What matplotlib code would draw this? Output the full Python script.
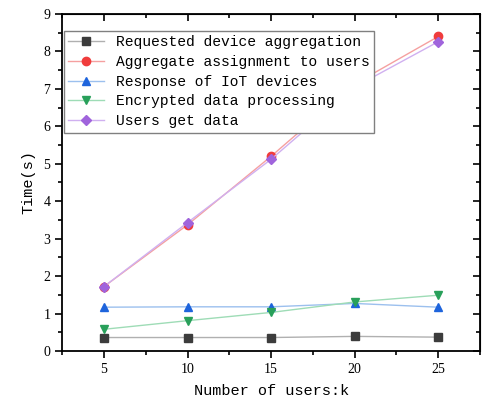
import matplotlib.pyplot as plt
from matplotlib.ticker import MultipleLocator

# data
users = [5, 10, 15, 20, 25]
requested = [0.36, 0.36, 0.36, 0.39, 0.37]
aggregate = [1.72, 3.37, 5.20, 7.13, 8.40]
iot_response = [1.17, 1.18, 1.18, 1.27, 1.17]
encrypted = [0.58, 0.81, 1.03, 1.31, 1.49]
users_get = [1.72, 3.43, 5.12, 7.05, 8.26]

labels = ["Requested device aggregation", "Aggregate assignment to users",
          "Response of IoT devices", "Encrypted data processing", "Users get data"]

plt.rcParams['font.family'] = ['Liberation Mono', 'DejaVu Sans']

fig = plt.figure(figsize=(4.82, 4.0), dpi=100)
ax = fig.add_axes([0.129, 0.1225, 0.867, 0.8425])

series = [
    (requested, 's', '#3c3c3c', '#b0b0b0'),
    (aggregate, 'o', '#f03c3c', '#f5a0a0'),
    (iot_response, '^', '#1e64dc', '#9cc0ee'),
    (encrypted, 'v', '#28a05a', '#9edcb6'),
    (users_get, 'D', '#a064dc', '#d0b0f0'),
]
for (vals, mk, mc, lc), lab in zip(series, labels):
    ax.plot(users, vals, color=lc, lw=1.0, marker=mk, markersize=6 if mk != 'D' else 5,
            markerfacecolor=mc, markeredgecolor=mc, label=lab)

ax.set_xlim(2.5, 27.5)
ax.set_ylim(0, 9)
ax.set_xticks(users)
ax.xaxis.set_minor_locator(MultipleLocator(2.5))
ax.yaxis.set_major_locator(MultipleLocator(1))
ax.yaxis.set_minor_locator(MultipleLocator(0.5))
ax.tick_params(which='both', direction='out', width=1.2)
ax.tick_params(which='major', length=5, labelsize=10)
ax.tick_params(which='minor', length=3)
for t in ax.get_xticklabels() + ax.get_yticklabels():
    t.set_family('Liberation Serif')
for s in ax.spines.values():
    s.set_linewidth(1.3)

# mirrored ticks on top and right point inward
top = ax.secondary_xaxis('top')
top.set_xticks(users)
top.xaxis.set_minor_locator(MultipleLocator(2.5))
top.tick_params(which='both', direction='in', width=1.2, labeltop=False)
top.tick_params(which='major', length=5)
top.tick_params(which='minor', length=3)
right = ax.secondary_yaxis('right')
right.yaxis.set_major_locator(MultipleLocator(1))
right.yaxis.set_minor_locator(MultipleLocator(0.5))
right.tick_params(which='both', direction='in', width=1.2, labelright=False)
right.tick_params(which='major', length=5)
right.tick_params(which='minor', length=3)

ax.set_xlabel("Number of users:k", fontsize=11, labelpad=6)
ax.set_ylabel("Time(s)", fontsize=11, labelpad=6)

leg = ax.legend(loc='upper left', bbox_to_anchor=(0.0, 0.955), fontsize=10.5,
                frameon=True, fancybox=False, edgecolor='#808080', framealpha=1,
                handlelength=2.5, borderpad=0.3, labelspacing=0.4, borderaxespad=0.1)
leg.get_frame().set_linewidth(1.0)

fig.savefig("out.png", dpi=100)
